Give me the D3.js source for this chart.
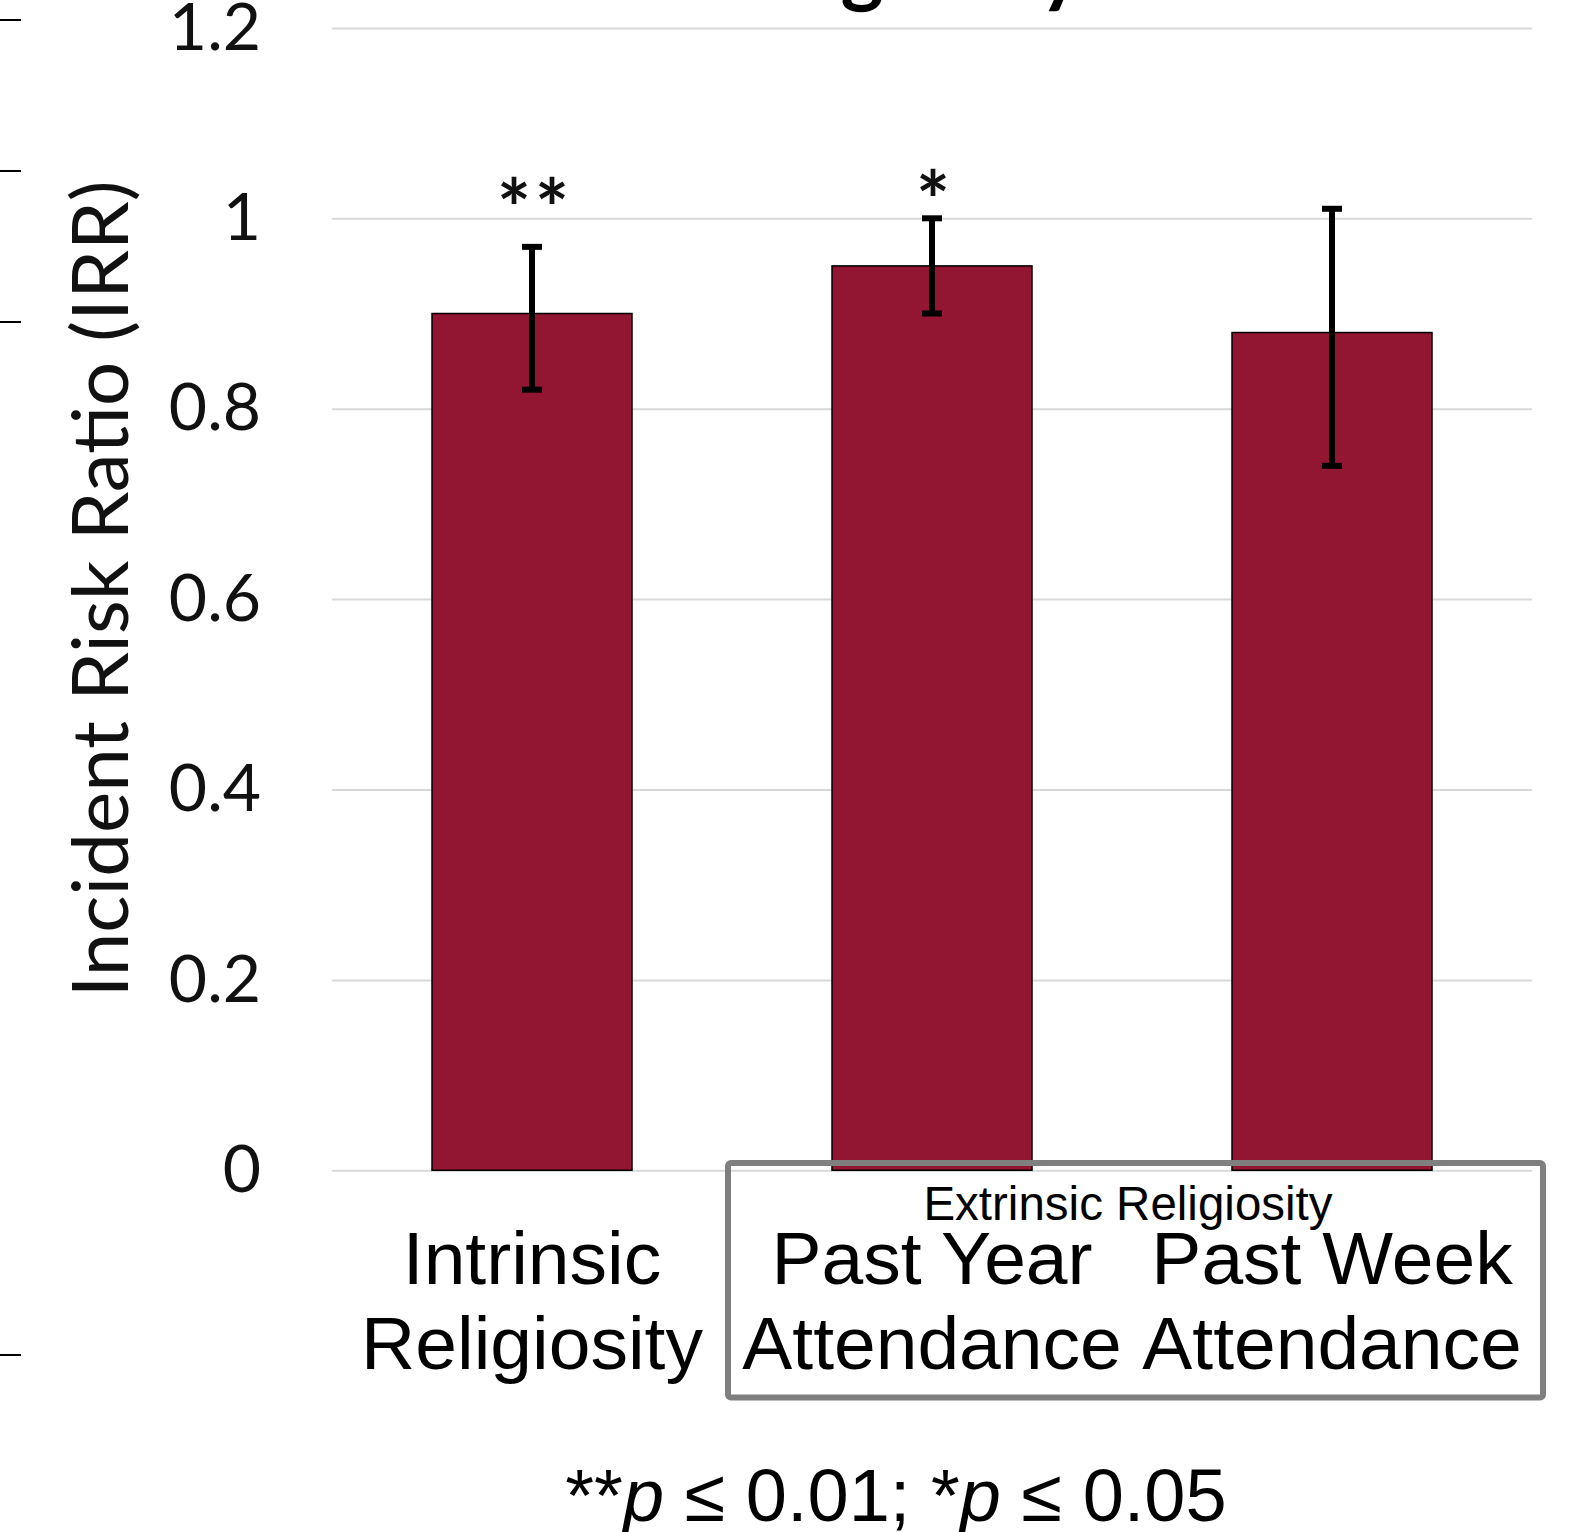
<!DOCTYPE html>
<html>
<head>
<meta charset="utf-8">
<script src="https://cdn.jsdelivr.net/npm/d3@7"></script>
<style>
  html, body { margin: 0; padding: 0; background: #fff; }
  svg { display: block; }
</style>
</head>
<body>
<svg width="1585" height="1532"></svg>
<script>
// data
const categories = [["Intrinsic", "Religiosity"], ["Past Year", "Attendance"], ["Past Week", "Attendance"]];
const irr = [0.90, 0.95, 0.88];
const ciLow = [0.82, 0.90, 0.74];
const ciHigh = [0.97, 1.00, 1.01];
const sigMarks = ["**", "*", ""];
const sigLevel = [0.979, 0.988, 0];
const yTicks = [0, 0.2, 0.4, 0.6, 0.8, 1, 1.2];
const yTickLabels = ["0", "0.2", "0.4", "0.6", "0.8", "1", "1.2"];
const title = "Religiosity";
const yTitle = "Incident Risk Ratio (IRR)";
const groupLabel = "Extrinsic Religiosity";

// layout
const plot = {left: 332, right: 1532, top: 27.9, bottom: 1170.3};
const edgeTickY = [20, 171, 322, 1355]; // cut-off ticks of the neighbouring panel
const barColor = "#921531";

const svg = d3.select("svg");

const x = d3.scaleBand()
  .domain(d3.range(categories.length))
  .range([plot.left, plot.right])
  .paddingInner(0.5)
  .paddingOuter(0.25);

const y = d3.scaleLinear()
  .domain([0, 1.2])
  .range([plot.bottom, plot.top]);

// stray ticks on the far left
svg.append("g").selectAll("line")
  .data(edgeTickY)
  .enter().append("line")
    .attr("x1", 0).attr("x2", 21)
    .attr("y1", d => d).attr("y2", d => d)
    .attr("stroke", "#000")
    .attr("stroke-width", 2);

// title, mostly above the top edge
svg.append("text")
  .attr("x", 894)
  .attr("y", -3)
  .attr("text-anchor", "middle")
  .attr("font-family", "Lato, sans-serif")
  .attr("font-weight", "bold")
  .attr("font-size", 82)
  .text(title);

// y axis with gridlines
const yAxis = d3.axisLeft(y)
  .tickValues(yTicks)
  .tickFormat((d, i) => yTickLabels[i])
  .tickSize(-(plot.right - plot.left))
  .tickPadding(71);

const gy = svg.append("g")
  .attr("transform", `translate(${plot.left},0)`)
  .call(yAxis);
gy.select(".domain").remove();
gy.selectAll(".tick line")
  .attr("stroke", "#d9d9d9")
  .attr("stroke-width", 2);
gy.selectAll(".tick text")
  .attr("font-family", "Lato, sans-serif")
  .attr("font-size", 66)
  .attr("fill", "#111");

svg.append("text")
  .attr("transform", "translate(128,589) rotate(-90)")
  .attr("text-anchor", "middle")
  .attr("font-family", "Lato, sans-serif")
  .attr("font-size", 78)
  .attr("fill", "#111")
  .text(yTitle);

// bars
svg.append("g").selectAll("rect")
  .data(irr)
  .enter().append("rect")
    .attr("x", (d, i) => x(i))
    .attr("y", d => y(d))
    .attr("width", x.bandwidth())
    .attr("height", d => y(0) - y(d))
    .attr("fill", barColor)
    .attr("stroke", "#000")
    .attr("stroke-width", 1.5);

// error bars
const cx = i => x(i) + x.bandwidth() / 2;
const err = svg.append("g")
  .attr("stroke", "#000")
  .attr("stroke-width", 6);
irr.forEach((d, i) => {
  err.append("line")
    .attr("x1", cx(i)).attr("x2", cx(i))
    .attr("y1", y(ciLow[i])).attr("y2", y(ciHigh[i]));
  [ciLow[i], ciHigh[i]].forEach(v => {
    err.append("line")
      .attr("x1", cx(i) - 10).attr("x2", cx(i) + 10)
      .attr("y1", y(v)).attr("y2", y(v));
  });
});

// significance marks
svg.append("g").selectAll("text")
  .data(sigMarks)
  .enter().append("text")
    .attr("x", (d, i) => cx(i) + 3)
    .attr("y", (d, i) => y(sigLevel[i]))
    .attr("text-anchor", "middle")
    .attr("font-family", "Lato, sans-serif")
    .attr("font-weight", "bold")
    .attr("font-size", 80)
    .attr("letter-spacing", 4)
    .attr("fill", "#111")
    .text(d => d);

// category labels
const cat = svg.append("g")
  .attr("font-family", "'Liberation Sans', Arial, sans-serif")
  .attr("font-size", 75)
  .attr("text-anchor", "middle")
  .attr("fill", "#000");
categories.forEach((lines, i) => {
  lines.forEach((s, j) => {
    cat.append("text")
      .attr("x", cx(i))
      .attr("y", 1284 + j * 85)
      .text(s);
  });
});

// extrinsic group box
svg.append("rect")
  .attr("x", 728)
  .attr("y", 1163)
  .attr("width", 815)
  .attr("height", 234.5)
  .attr("rx", 3)
  .attr("fill", "none")
  .attr("stroke", "#7f7f7f")
  .attr("stroke-width", 6);

svg.append("text")
  .attr("x", (cx(1) + cx(2)) / 2 - 4)
  .attr("y", 1220)
  .attr("text-anchor", "middle")
  .attr("font-family", "'Liberation Sans', Arial, sans-serif")
  .attr("font-size", 47.5)
  .attr("fill", "#000")
  .text(groupLabel);

// footnote
const foot = svg.append("text")
  .attr("x", 896)
  .attr("y", 1521)
  .attr("text-anchor", "middle")
  .attr("font-family", "'Liberation Sans', Arial, sans-serif")
  .attr("font-size", 74)
  .attr("fill", "#000");
foot.append("tspan").text("**");
foot.append("tspan").attr("font-style", "italic").text("p");
foot.append("tspan").text(" \u2264 0.01; *");
foot.append("tspan").attr("font-style", "italic").text("p");
foot.append("tspan").text(" \u2264 0.05");
</script>
</body>
</html>
